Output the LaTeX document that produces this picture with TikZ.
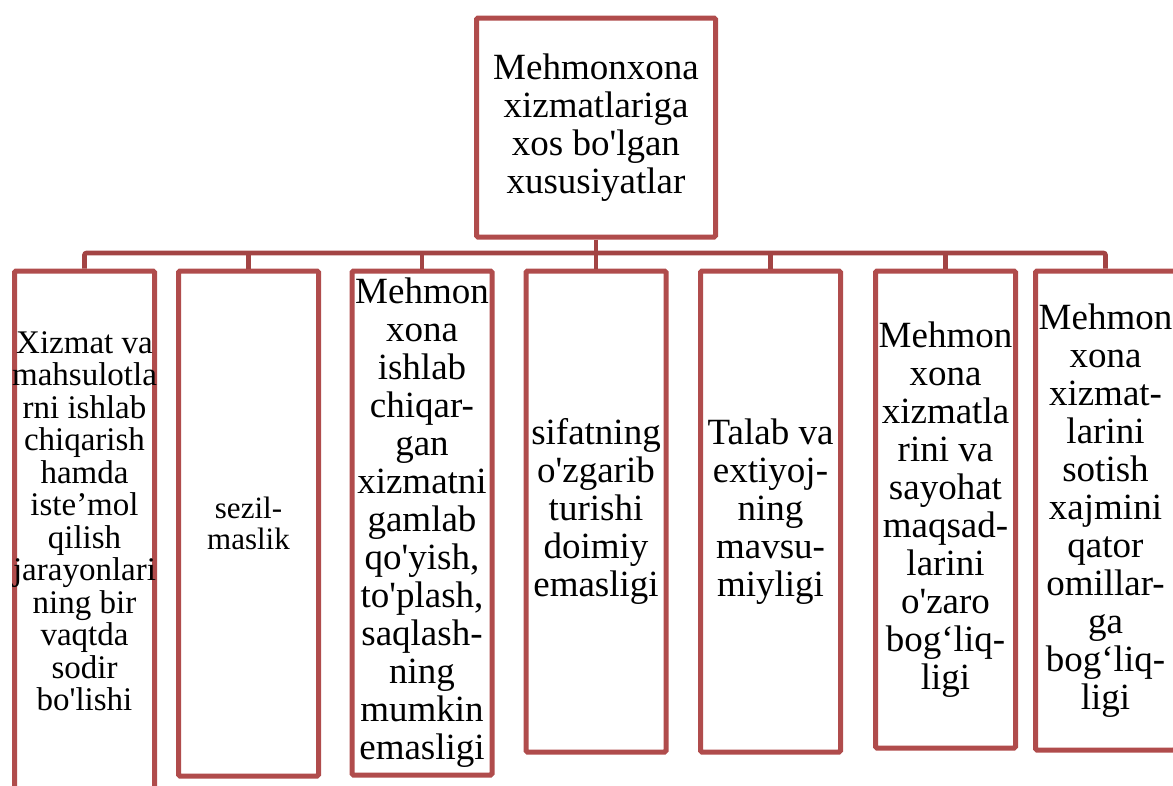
\documentclass[tikz,border=0pt]{standalone}
\usepackage{fontspec}
\setmainfont{Liberation Serif}[Ligatures=TeXOff]
\definecolor{framered}{HTML}{B04C4C}
\definecolor{linkred}{HTML}{A34444}
\begin{document}
\begin{tikzpicture}[x=1pt,y=-1pt,
  cell/.style={draw=framered, line width=5pt, rounded corners=1.5pt, fill=white,
    inner sep=0pt, align=center, anchor=north, minimum width=140pt},
  bigtext/.style={font=\fontsize{37}{38}\selectfont},
  midtext/.style={font=\fontsize{33}{32.5}\selectfont},
  smalltext/.style={font=\fontsize{31}{30.5}\selectfont},
  connector/.style={draw=linkred, line width=4.6pt}
]
\useasboundingbox (0,0) rectangle (1173,785);

% level of the horizontal bus
\coordinate (bus) at (0,253);

% root
\node[cell, bigtext, minimum width=239pt, minimum height=219pt] (root) at (596,15.5)
  {Mehmonxona\\xizmatlariga\\xos bo'lgan\\xususiyatlar};

% children
\node[cell, minimum height=532pt] (b1) at (84.5,268.5) {};
\node[midtext, align=center, inner sep=0pt] (t1) at (84.5,521)
  {Xizmat va\\mahsulotla\\rni ishlab\\chiqarish\\hamda\\iste’mol\\qilish\\jarayonlari\\ning bir\\vaqtda\\sodir\\bo'lishi};

\node[cell, smalltext, minimum height=505pt] (b2) at (248.5,268.5)
  {sezil-\\maslik};

\node[cell, bigtext, minimum height=504pt] (b3) at (422,268.5)
  {Mehmon\\xona\\ishlab\\chiqar-\\gan\\xizmatni\\gamlab\\qo'yish,\\to'plash,\\saqlash-\\ning\\mumkin\\emasligi};

\node[cell, bigtext, minimum height=481pt] (b4) at (596,268.5)
  {sifatning\\o'zgarib\\turishi\\doimiy\\emasligi};

\node[cell, bigtext, minimum height=481pt] (b5) at (770.5,268.5)
  {Talab va\\extiyoj-\\ning\\mavsu-\\miyligi};

\node[cell, bigtext, minimum height=477pt] (b6) at (945.5,268.5)
  {Mehmon\\xona\\xizmatla\\rini va\\sayohat\\maqsad-\\larini\\o'zaro\\bog‘liq-\\ligi};

\node[cell, bigtext, minimum height=479pt] (b7) at (1105.5,268.5)
  {Mehmon\\xona\\xizmat-\\larini\\sotish\\xajmini\\qator\\omillar-\\ga\\bog‘liq-\\ligi};

% connectors
\draw[connector] (root.south) -- (root.south |- bus);
\draw[connector, rounded corners=2pt] (b1.north) -- (b1.north |- bus) -- (b7.north |- bus) -- (b7.north);
\foreach \n in {b2,b3,b4,b5,b6}
  \draw[connector] (\n.north) -- (\n.north |- bus);
\end{tikzpicture}
\end{document}
